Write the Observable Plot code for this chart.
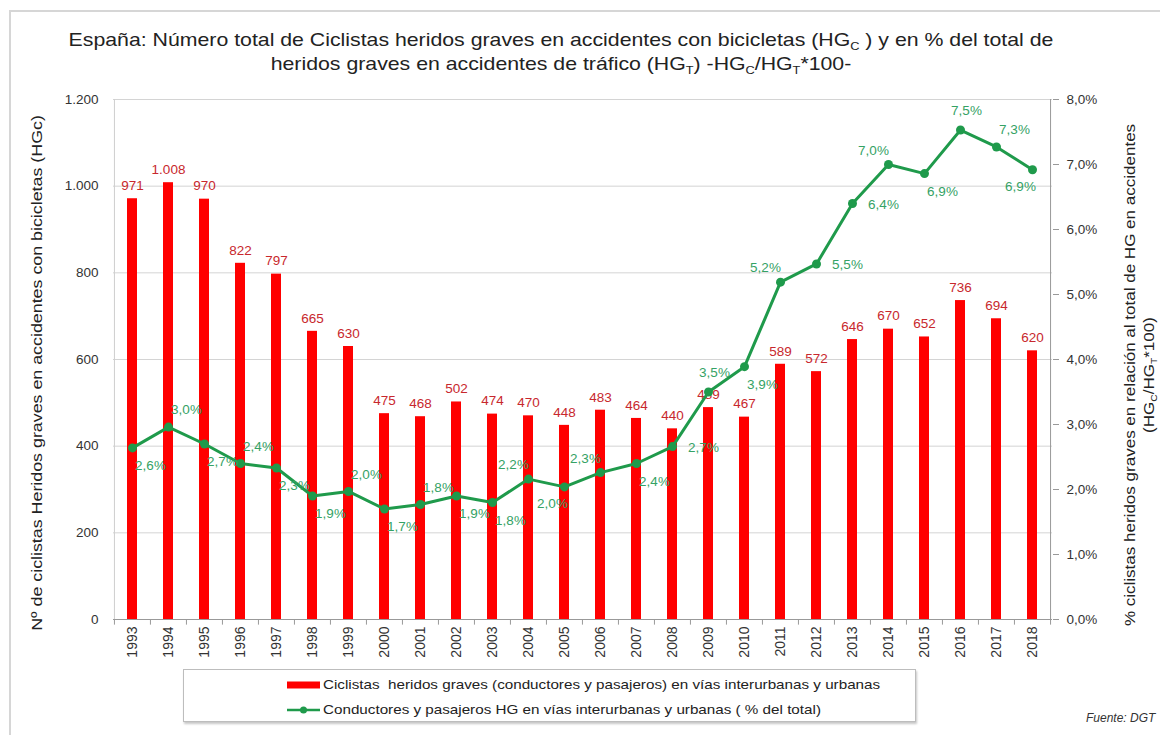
<!DOCTYPE html>
<html><head><meta charset="utf-8">
<script src="https://cdn.jsdelivr.net/npm/d3@7"></script>
<script src="https://cdn.jsdelivr.net/npm/@observablehq/plot@0.6"></script>
<style>
body{margin:0;background:#fff;}
#wrap{position:relative;width:1160px;height:735px;font-family:"Liberation Sans",Arial,sans-serif;color:#222;overflow:hidden;background:#fff}
#border{position:absolute;left:9px;top:10px;right:-10px;bottom:-10px;border:2px solid #d6d6d6;}
#chart{position:absolute;left:0;top:0}
#title{position:absolute;left:0;top:28px;width:1122px;text-align:center;font-size:18.5px;line-height:24px;color:#222;transform:scaleX(1.15);transform-origin:561px 0}
sub{font-size:0.6em;vertical-align:-0.35em;line-height:0}
.rot{position:absolute;white-space:nowrap;text-align:center;color:#222}
#legend{position:absolute;left:183px;top:669px;width:731px;height:51px;border:1px solid #bdbdbd;box-shadow:1px 2px 2px #c8c8c8;background:#fff;font-size:13px;color:#222}
.row{position:absolute;left:103px;height:16px;line-height:16px;white-space:nowrap}
.sw{display:inline-block;vertical-align:middle;margin-right:3px}
.tx{display:inline-block;vertical-align:middle;transform:scaleX(1.17);transform-origin:0 50%}
#source{position:absolute;left:1086px;top:711px;font-size:12px;font-style:italic;color:#333;white-space:nowrap}
</style></head><body>
<div id="wrap">
  <div id="border"></div>
  <div id="chart"></div>
  <div id="title">España: Número total de Ciclistas heridos graves en accidentes con bicicletas (HG<sub>C</sub> ) y en % del total de<br>heridos graves en accidentes de tráfico (HG<sub>T</sub>) -HG<sub>C</sub>/HG<sub>T</sub>*100-</div>
  <div class="rot" style="left:37px;top:373px;font-size:15.5px;transform:translate(-50%,-50%) rotate(-90deg) scaleX(1.15)">Nº de ciclistas Heridos graves en accidentes con bicicletas (HGc)</div>
  <div class="rot" style="left:1140px;top:375px;font-size:14.8px;line-height:19px;transform:translate(-50%,-50%) rotate(-90deg) scaleX(1.15)">% ciclistas heridos graves en relación al total de HG en accidentes<br>(HG<sub>C</sub>/HG<sub>T</sub>*100)</div>
  <div id="legend">
    <div class="row" style="top:6px"><svg class="sw" width="33" height="8"><rect x="0" y="0.5" width="33" height="7" fill="#ff0000"/></svg><span class="tx">Ciclistas&nbsp; heridos graves (conductores y pasajeros) en vías interurbanas y urbanas</span></div>
    <div class="row" style="top:31px"><svg class="sw" width="33" height="10"><line x1="0" y1="5" x2="33" y2="5" stroke="#1f9a4b" stroke-width="2.5"/><circle cx="16.5" cy="5" r="3.5" fill="#1f9a4b"/></svg><span class="tx">Conductores y pasajeros HG en vías interurbanas y urbanas ( % del total)</span></div>
  </div>
  <div id="source">Fuente: DGT</div>
</div>
<script>
// ---- data ----
const years = ["1993","1994","1995","1996","1997","1998","1999","2000","2001","2002","2003","2004","2005","2006","2007","2008","2009","2010","2011","2012","2013","2014","2015","2016","2017","2018"];
const heridos = [971,1008,970,822,797,665,630,475,468,502,474,470,448,483,464,440,489,467,589,572,646,670,652,736,694,620];
const porcentaje = [2.64,2.96,2.70,2.40,2.33,1.90,1.97,1.70,1.77,1.90,1.80,2.16,2.04,2.26,2.40,2.66,3.50,3.89,5.19,5.47,6.40,7.00,6.86,7.53,7.27,6.92];
const leftTicks = [0,200,400,600,800,1000,1200];
const rightTicks = [0,1,2,3,4,5,6,7,8];

const data = years.map((year, i) => ({year, heridos: heridos[i], pct: porcentaje[i]}));

// ---- formatting ----
const es = d3.formatLocale({decimal: ",", thousands: ".", grouping: [3], currency: ["", "€"]});
const nf = es.format(",d");
const pf = v => v.toFixed(1).replace(".", ",") + "%";
const K = 1200 / 8; // right axis (0–8%) mapped onto left axis (0–1200)

// ---- layout ----
const W = 1160, H = 735, mL = 113, mR = 108, mT = 99, mB = 116;
const step = (W - mL - mR) / years.length;

// label placement around the green line (style only)
const placements = [
  {dx: 18, dy: 18, set: ["1993","1995","1997","1998","2000","2002","2003","2007","2010","2015"]},
  {dx: 18, dy: -17, set: ["1994","1996","1999","2001","2017"]},
  {dx: -15, dy: -14, set: ["2004","2006","2011","2014"]},
  {dx: -12, dy: 17, set: ["2005","2018"]},
  {dx: 31, dy: 1, set: ["2008","2012","2013"]},
  {dx: 6, dy: -19, set: ["2009","2016"]}
];

const GREEN = "#1f9a4b", LGREEN = "#35a265", RED = "#ff0000", DRED = "#c8282d";

const chart = Plot.plot({
  width: W, height: H,
  marginLeft: mL, marginRight: mR, marginTop: mT, marginBottom: mB,
  style: {fontFamily: "Liberation Sans, Arial, sans-serif", fontSize: "13px", color: "#333", background: "transparent", overflow: "visible"},
  x: {type: "band", domain: years, paddingInner: 0.72, paddingOuter: 0.36, label: null},
  y: {domain: [0, 1200], label: null},
  marks: [
    Plot.gridY(leftTicks.slice(1), {stroke: "#d4d4d4", strokeOpacity: 1}),
    // left axis
    Plot.axisY(leftTicks, {anchor: "left", tickSize: 0, tickPadding: 15, tickFormat: nf, fontSize: 13.5, fill: "#333", label: null}),
    // right axis (percent)
    Plot.axisY(rightTicks.map(d => d * K), {anchor: "right", tickSize: 6, tickPadding: 8, stroke: "#999", tickFormat: d => pf(d / K), fontSize: 13.5, fill: "#333", label: null}),
    // frame lines
    Plot.ruleX([years[0]], {dx: -step / 2, stroke: "#cfcfcf"}),
    Plot.ruleX([years[years.length - 1]], {dx: step / 2, stroke: "#999"}),
    Plot.ruleY([0], {stroke: "#999"}),
    // bottom tick marks at category boundaries
    Plot.ruleX(years, {dx: -step / 2, y1: 0, y2: -13, stroke: "#999"}),
    Plot.ruleX([years[years.length - 1]], {dx: step / 2, y1: 0, y2: -13, stroke: "#999"}),
    Plot.axisX({tickSize: 0, tickPadding: 7, tickRotate: -90, fontSize: 14, fill: "#333", label: null}),
    // bars
    Plot.barY(data, {x: "year", y: "heridos", fill: RED}),
    Plot.text(data, {x: "year", y: "heridos", text: d => nf(d.heridos), dy: -13, fill: DRED, fontSize: 13.5}),
    // line
    Plot.line(data, {x: "year", y: d => d.pct * K, stroke: GREEN, strokeWidth: 3}),
    Plot.dot(data, {x: "year", y: d => d.pct * K, r: 4.5, fill: GREEN}),
    ...placements.map(p => Plot.text(data.filter(d => p.set.includes(d.year)), {
      x: "year", y: d => d.pct * K, text: d => pf(d.pct), dx: p.dx, dy: p.dy, fill: LGREEN, fontSize: 13.5
    }))
  ]
});
document.getElementById("chart").appendChild(chart);
</script>
</body></html>
